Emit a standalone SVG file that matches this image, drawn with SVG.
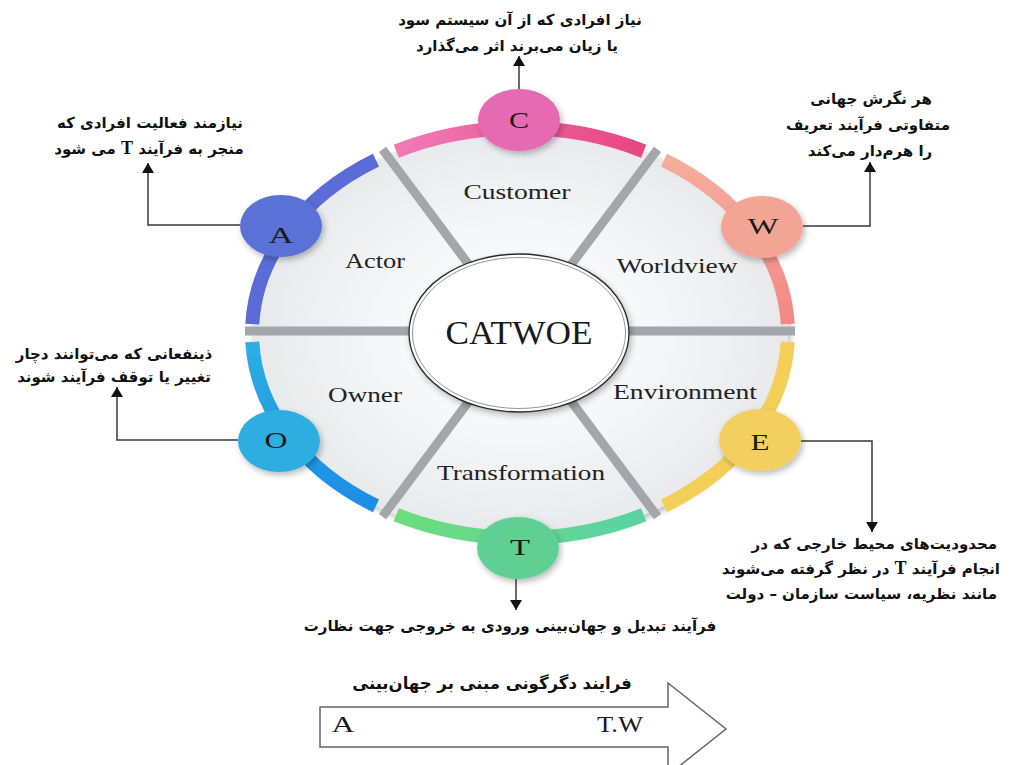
<svg xmlns="http://www.w3.org/2000/svg" width="1010" height="765" viewBox="0 0 1010 765">
<defs>
<style>
.lbl{font-family:"Liberation Serif","Times New Roman",serif;font-size:21px;fill:#222;text-anchor:middle}
.let{font-family:"Liberation Serif","Times New Roman",serif;font-size:23px;fill:#1a1a1a;text-anchor:middle}
.fa{font-family:"DejaVu Sans",sans-serif;font-size:15px;font-weight:bold;fill:#111;direction:rtl;text-anchor:middle}
.fa-r{font-family:"DejaVu Sans",sans-serif;font-size:15px;font-weight:bold;fill:#111;direction:rtl;text-anchor:start}
.lt{font-family:"Liberation Serif","Times New Roman",serif;font-size:18px}
.con{fill:none;stroke:#3a3a3a;stroke-width:1.5;marker-end:url(#ah)}
.rim{fill:none;stroke-width:14;stroke-linecap:butt}
.div{stroke:#a3a7ac;stroke-width:9;stroke-linecap:butt}
.node{filter:url(#sh)}
</style>
<marker id="ah" viewBox="0 0 10 12" refX="10" refY="6" markerWidth="10" markerHeight="12" markerUnits="userSpaceOnUse" orient="auto">
<path d="M0,0 L10,6 L0,12 z" fill="#111"/>
</marker>
<filter id="sh" x="-30%" y="-30%" width="160%" height="160%">
<feDropShadow dx="2" dy="3" stdDeviation="3" flood-color="#000" flood-opacity="0.28"/>
</filter>
<radialGradient id="gFill" cx="520" cy="333" r="268" gradientUnits="userSpaceOnUse" gradientTransform="translate(520 333) scale(1 0.765) translate(-520 -333)">
<stop offset="0" stop-color="#ffffff"/>
<stop offset="0.5" stop-color="#f6f7f8"/>
<stop offset="1" stop-color="#e7e9eb"/>
</radialGradient>
<linearGradient id="gC" x1="396" y1="0" x2="644" y2="0" gradientUnits="userSpaceOnUse">
<stop offset="0" stop-color="#f07ab6"/><stop offset="1" stop-color="#e8467f"/>
</linearGradient>
<linearGradient id="gW" x1="0" y1="160" x2="0" y2="324" gradientUnits="userSpaceOnUse">
<stop offset="0" stop-color="#f5ad9c"/><stop offset="1" stop-color="#f38886"/>
</linearGradient>
<linearGradient id="gT" x1="396" y1="0" x2="644" y2="0" gradientUnits="userSpaceOnUse">
<stop offset="0" stop-color="#6cdc7e"/><stop offset="1" stop-color="#5bd2a4"/>
</linearGradient>
<linearGradient id="gO" x1="0" y1="342" x2="0" y2="506" gradientUnits="userSpaceOnUse">
<stop offset="0" stop-color="#2cb0e2"/><stop offset="1" stop-color="#1d8de6"/>
</linearGradient>
</defs>

<rect width="1010" height="765" fill="#ffffff"/>

<g id="wheel-base">
<ellipse cx="520" cy="333" rx="268" ry="205" fill="url(#gFill)" filter="url(#sh)"/>
<line class="div" x1="520" y1="333" x2="657.5" y2="149.4"/>
<line class="div" x1="520" y1="333" x2="382.5" y2="149.4"/>
<line class="div" x1="520" y1="331" x2="245" y2="331"/>
<line class="div" x1="520" y1="333" x2="382.5" y2="516.6"/>
<line class="div" x1="520" y1="333" x2="657.5" y2="516.6"/>
<line class="div" x1="520" y1="331" x2="795" y2="331"/>
</g>

<g id="node-C">
<path class="rim" stroke="url(#gC)" d="M396.3,151.2 A268,205 0 0 1 643.7,151.2"/>
<ellipse class="node" cx="519" cy="120" rx="41" ry="31" fill="#e66bb2"/>
<text class="let" x="519" y="128" textLength="20" lengthAdjust="spacingAndGlyphs">C</text>
<text class="lbl" x="517" y="199" textLength="107" lengthAdjust="spacingAndGlyphs">Customer</text>
<text class="fa" x="520" y="25">نیاز افرادی که از آن سیستم سود</text>
<text class="fa" x="517" y="51">یا زیان می‌برند اثر می‌گذارد</text>
</g>

<g id="node-A">
<path class="rim" stroke="#5b6cd8" d="M252.3,324.1 A268,205 0 0 1 376.0,160.1"/>
<ellipse class="node" cx="281" cy="226" rx="41" ry="31" fill="#5a72d8"/>
<text class="let" x="281" y="243" textLength="25" lengthAdjust="spacingAndGlyphs">A</text>
<text class="lbl" x="375" y="268" textLength="60" lengthAdjust="spacingAndGlyphs">Actor</text>
<text class="fa" x="150" y="128">نیازمند فعالیت افرادی که</text>
<text class="fa" x="149" y="154">منجر به فرآیند <tspan class="lt" font-weight="bold">T</tspan> می شود</text>
</g>

<g id="node-W">
<path class="rim" stroke="url(#gW)" d="M664.0,160.1 A268,205 0 0 1 787.7,324.1"/>
<ellipse class="node" cx="762" cy="227" rx="41" ry="31" fill="#f3a595"/>
<text class="let" x="763" y="234" textLength="31" lengthAdjust="spacingAndGlyphs">W</text>
<text class="lbl" x="677" y="273" textLength="121" lengthAdjust="spacingAndGlyphs">Worldview</text>
<text class="fa" x="871" y="104">هر نگرش جهانی</text>
<text class="fa" x="868" y="130">متفاوتی فرآیند تعریف</text>
<text class="fa" x="870" y="156">را هرم‌دار می‌کند</text>
</g>

<g id="node-E">
<path class="rim" stroke="#f3cf58" d="M787.7,341.9 A268,205 0 0 1 664.0,505.9"/>
<ellipse class="node" cx="760" cy="440" rx="41" ry="31" fill="#f3cf60"/>
<text class="let" x="760" y="450" textLength="19" lengthAdjust="spacingAndGlyphs">E</text>
<text class="lbl" x="685" y="399" textLength="144" lengthAdjust="spacingAndGlyphs">Environment</text>
<text class="fa-r" x="997" y="549">محدودیت‌های محیط خارجی که در</text>
<text class="fa-r" x="1000" y="574">انجام فرآیند <tspan class="lt">T</tspan> در نظر گرفته می‌شوند</text>
<text class="fa-r" x="997" y="599">مانند نظریه، سیاست سازمان – دولت</text>
</g>

<g id="node-T">
<path class="rim" stroke="url(#gT)" d="M643.7,514.8 A268,205 0 0 1 396.3,514.8"/>
<ellipse class="node" cx="518" cy="548" rx="41" ry="31" fill="#60cf93"/>
<text class="let" x="520" y="555" textLength="20" lengthAdjust="spacingAndGlyphs">T</text>
<text class="lbl" x="521" y="480" textLength="168" lengthAdjust="spacingAndGlyphs">Transformation</text>
<text class="fa" x="510" y="631">فرآیند تبدیل و جهان‌بینی ورودی به خروجی جهت نظارت</text>
</g>

<g id="node-O">
<path class="rim" stroke="url(#gO)" d="M376.0,505.9 A268,205 0 0 1 252.3,341.9"/>
<ellipse class="node" cx="279" cy="441" rx="41" ry="31" fill="#2eaee0"/>
<text class="let" x="276" y="448" textLength="23" lengthAdjust="spacingAndGlyphs">O</text>
<text class="lbl" x="365" y="402" textLength="74" lengthAdjust="spacingAndGlyphs">Owner</text>
<text class="fa" x="114" y="359">ذینفعانی که می‌توانند دچار</text>
<text class="fa" x="114" y="382">تغییر یا توقف فرآیند شوند</text>
</g>

<g id="center-CATWOE">
<ellipse cx="519" cy="333" rx="110" ry="79" fill="#ffffff" stroke="#2a2a2a" stroke-width="1.3" filter="url(#sh)"/>
<ellipse cx="519" cy="333" rx="106.5" ry="75.5" fill="none" stroke="#8a8a8a" stroke-width="0.9"/>
<text x="519" y="344" font-family="Liberation Serif, Times New Roman, serif" font-size="33" fill="#1a1a1a" text-anchor="middle" textLength="147" lengthAdjust="spacingAndGlyphs">CATWOE</text>
</g>

<g id="connectors">
<path class="con" d="M519,89 V56"/>
<path class="con" d="M240,225 H148 V163"/>
<path class="con" d="M803,226 H870 V162"/>
<path class="con" d="M238,440 H117 V387"/>
<path class="con" d="M801,441 H872 V532"/>
<path class="con" d="M516,579 V610"/>
</g>

<g id="process-arrow">
<path d="M320,707 H668 V683 L726,729 L668,775 V747 H320 Z" fill="#ffffff" stroke="#666" stroke-width="1.5"/>
<text class="fa" x="492" y="689" style="font-size:16.5px">فرایند دگرگونی مبنی بر جهان‌بینی</text>
<text x="343" y="732" font-family="Liberation Serif, Times New Roman, serif" font-size="23" fill="#1a1a1a" text-anchor="middle" textLength="23" lengthAdjust="spacingAndGlyphs">A</text>
<text x="620" y="732" font-family="Liberation Serif, Times New Roman, serif" font-size="23" fill="#1a1a1a" text-anchor="middle" textLength="46" lengthAdjust="spacingAndGlyphs">T.W</text>
</g>
</svg>
